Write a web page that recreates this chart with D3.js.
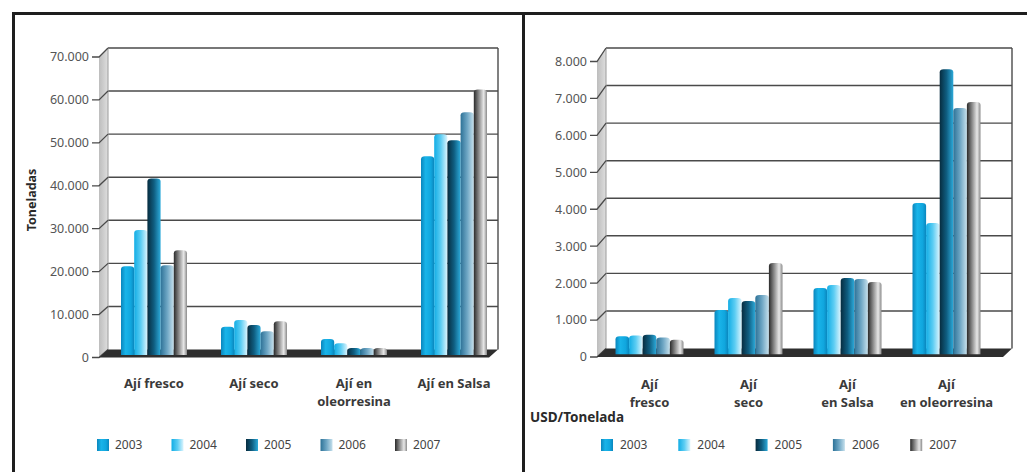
<!DOCTYPE html>
<html>
<head>
<meta charset="utf-8">
<script src="https://cdn.jsdelivr.net/npm/d3@7"></script>
<style>
  html, body { margin: 0; padding: 0; background: #fff; }
  svg { display: block; font-family: "Noto Sans", "Open Sans", sans-serif; }
</style>
</head>
<body>
<svg id="chart" width="1027" height="472"></svg>
<script>
// ---- Data -------------------------------------------------------------
const years = ["2003", "2004", "2005", "2006", "2007"];

// Volume exported (toneladas)
const volumeCategories = [["Ají fresco"], ["Ají seco"], ["Ají en", "oleorresina"], ["Ají en Salsa"]];
const vol2003 = [20300, 6200, 3400, 45900];
const vol2004 = [28700, 7800, 2400, 51000];
const vol2005 = [40700, 6600, 1300, 49600];
const vol2006 = [20500, 5200, 1300, 56100];
const vol2007 = [24000, 7500, 1300, 61400];
const volumeTicks = [0, 10000, 20000, 30000, 40000, 50000, 60000, 70000];

// Unit price (USD/tonelada)
const priceCategories = [["Ají", "fresco"], ["Ají", "seco"], ["Ají", "en Salsa"], ["Ají", "en oleorresina"]];
const price2003 = [440, 1150, 1740, 4020];
const price2004 = [460, 1470, 1820, 3480];
const price2005 = [480, 1390, 2010, 7610];
const price2006 = [410, 1550, 1980, 6570];
const price2007 = [350, 2410, 1900, 6730];
const priceTicks = [0, 1000, 2000, 3000, 4000, 5000, 6000, 7000, 8000];

// ---- Styling ----------------------------------------------------------
const yearGradients = [
  [[0, "#0a86bd"], [0.35, "#19b4e9"], [0.75, "#10a6de"], [1, "#0a86bd"]],
  [[0, "#12ade5"], [0.5, "#5ccdf3"], [1, "#dcf4fd"]],
  [[0, "#072c3f"], [0.5, "#0f5d80"], [1, "#2caada"]],
  [[0, "#2d7297"], [0.5, "#6ea6c4"], [1, "#c6e0ec"]],
  [[0, "#2a2a2a"], [0.45, "#9c9c9c"], [0.75, "#e8e8e8"], [1, "#8a8a8a"]]
];

const fmt = d3.formatLocale({ decimal: ",", thousands: ".", grouping: [3], currency: ["", ""] }).format(",d");

const svg = d3.select("#chart");
const defs = svg.append("defs");
yearGradients.forEach((stops, i) => {
  const lg = defs.append("linearGradient").attr("id", "grad" + i)
    .attr("x1", "0%").attr("x2", "100%").attr("y1", "0%").attr("y2", "0%");
  stops.forEach(s => lg.append("stop").attr("offset", s[0]).attr("stop-color", s[1]));
});
const wallGrad = defs.append("linearGradient").attr("id", "wallGrad")
  .attr("x1", "0%").attr("x2", "100%");
wallGrad.append("stop").attr("offset", 0).attr("stop-color", "#bdbdbd");
wallGrad.append("stop").attr("offset", 1).attr("stop-color", "#dedede");

svg.append("rect").attr("width", 1027).attr("height", 472).attr("fill", "#fff");

// Panel frame
svg.append("line").attr("x1", 12).attr("x2", 1027).attr("y1", 13.5).attr("y2", 13.5)
  .attr("stroke", "#1e1e1e").attr("stroke-width", 3);
svg.append("line").attr("x1", 13.5).attr("x2", 13.5).attr("y1", 12).attr("y2", 472)
  .attr("stroke", "#1e1e1e").attr("stroke-width", 3);
svg.append("line").attr("x1", 523.5).attr("x2", 523.5).attr("y1", 12).attr("y2", 472)
  .attr("stroke", "#1e1e1e").attr("stroke-width", 3);

// Bar with a rounded cylinder-like top
function barPath(x, y, w, y0) {
  const r = Math.min(w / 2, 4), ry = 3;
  return `M${x},${y0} L${x},${y + ry} Q${x},${y} ${x + r},${y} L${x + w - r},${y} Q${x + w},${y} ${x + w},${y + ry} L${x + w},${y0} Z`;
}

function drawChart(cfg) {
  const g = svg.append("g");
  const { backX0, backX1, backTop, backBottom, frontTop, frontBottom, dx, max } = cfg;

  const yBack = d3.scaleLinear().domain([0, max]).range([backBottom, backTop]);
  const yFront = d3.scaleLinear().domain([0, max]).range([frontBottom, frontTop]);
  const yMid = d3.scaleLinear().domain([0, max])
    .range([(backBottom + frontBottom) / 2, (backTop + frontTop) / 2]);
  const frontX = backX0 - dx;

  const xGroup = d3.scaleBand().domain(d3.range(cfg.categories.length)).range(cfg.barRange).padding(0);
  const xInner = d3.scaleBand().domain(d3.range(years.length))
    .range([-cfg.groupWidth / 2, cfg.groupWidth / 2]).padding(0);

  // Side wall
  g.append("path")
    .attr("d", `M${frontX},${yFront(0)} L${frontX},${yFront(max)} L${backX0},${yBack(max)} L${backX0},${yBack(0)} Z`)
    .attr("fill", "url(#wallGrad)");

  // Back wall gridlines
  g.selectAll(".grid").data(cfg.ticks.slice(1)).join("line")
    .attr("x1", backX0).attr("x2", backX1)
    .attr("y1", d => yBack(d)).attr("y2", d => yBack(d))
    .attr("stroke", "#4a4a4a").attr("stroke-width", 1.4);
  g.append("line").attr("x1", backX1).attr("x2", backX1)
    .attr("y1", yBack(max)).attr("y2", yBack(0))
    .attr("stroke", "#4a4a4a").attr("stroke-width", 1.4);
  g.append("line").attr("x1", backX0).attr("x2", backX0)
    .attr("y1", yBack(max)).attr("y2", yBack(0))
    .attr("stroke", "#9a9a9a").attr("stroke-width", 1);

  // Ticks: short mark on the front edge, slanted back to the wall
  const ticks = g.selectAll(".tick").data(cfg.ticks).join("g");
  ticks.append("path")
    .attr("d", d => `M${frontX - 7},${yFront(d)} L${frontX},${yFront(d)} L${backX0},${yBack(d)}`)
    .attr("fill", "none").attr("stroke", "#4a4a4a").attr("stroke-width", 1.3);
  ticks.append("text")
    .attr("x", frontX - 10).attr("y", d => yFront(d))
    .attr("dy", "0.35em").attr("text-anchor", "end")
    .attr("font-size", cfg.tickFont).attr("fill", "#555")
    .text(d => fmt(d));

  // Floor slab
  g.append("path")
    .attr("d", `M${backX0},${yBack(0)} L${backX1},${yBack(0)} L${backX1 - dx},${yFront(0)} L${frontX},${yFront(0)} Z`)
    .attr("fill", "#2e2e2e");

  // Bars
  const series = cfg.series;
  cfg.categories.forEach((cat, ci) => {
    const cx = xGroup(ci) + xGroup.bandwidth() / 2;
    series.forEach((vals, si) => {
      const x = cx + xInner(si);
      const w = xInner.bandwidth();
      g.append("path")
        .attr("d", barPath(x, yMid(vals[ci]), w, yMid(0) + 1.5))
        .attr("fill", `url(#grad${si})`);
    });
    // Category label
    const t = g.append("text")
      .attr("x", cx).attr("y", cfg.labelY)
      .attr("text-anchor", "middle").attr("font-weight", "bold")
      .attr("font-size", 13).attr("fill", "#3a3a3a");
    cat.forEach((line, li) => {
      t.append("tspan").attr("x", cx).attr("dy", li === 0 ? 0 : "1.4em").text(line);
    });
  });

  // Legend
  const lg = g.append("g");
  years.forEach((yr, i) => {
    const lx = cfg.legendX + i * cfg.legendStep;
    lg.append("rect").attr("x", lx).attr("y", cfg.legendY - 6).attr("width", 12).attr("height", 12)
      .attr("fill", `url(#grad${i})`);
    lg.append("text").attr("x", lx + cfg.legendGap).attr("y", cfg.legendY)
      .attr("dy", "0.35em").attr("font-size", 12).attr("fill", "#444").text(yr);
  });
  return g;
}

// Left: volume
drawChart({
  categories: volumeCategories,
  series: [vol2003, vol2004, vol2005, vol2006, vol2007],
  ticks: volumeTicks, max: 70000,
  backX0: 108, backX1: 498, backTop: 48, backBottom: 349.5,
  frontTop: 57, frontBottom: 357.5, dx: 9,
  barRange: [104, 504], groupWidth: 66,
  tickFont: 12.5, labelY: 388,
  legendX: 97, legendStep: 74.5, legendGap: 18, legendY: 445
});

// Right: unit price
drawChart({
  categories: priceCategories,
  series: [price2003, price2004, price2005, price2006, price2007],
  ticks: priceTicks, max: 8000,
  backX0: 606, backX1: 1012, backTop: 48, backBottom: 348.5,
  frontTop: 61.5, frontBottom: 357, dx: 9,
  barRange: [600, 996], groupWidth: 68,
  tickFont: 12.5, labelY: 389,
  legendX: 601, legendStep: 77.3, legendGap: 19, legendY: 445
});

// Axis titles
svg.append("text")
  .attr("transform", "translate(36,200) rotate(-90)")
  .attr("text-anchor", "middle").attr("font-weight", "bold")
  .attr("font-size", 12.5).attr("fill", "#2a2a2a").text("Toneladas");
svg.append("text")
  .attr("x", 530).attr("y", 417).attr("dy", "0.35em")
  .attr("font-weight", "bold").attr("font-size", 13.5).attr("fill", "#2a2a2a").text("USD/Tonelada");
</script>
</body>
</html>
